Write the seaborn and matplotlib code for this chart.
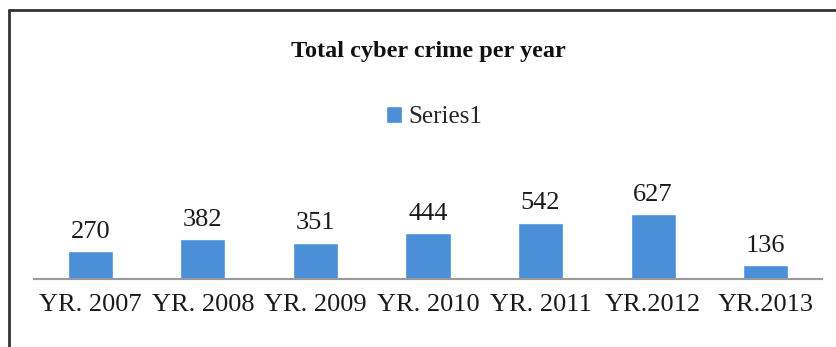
import pandas as pd
import matplotlib.pyplot as plt
import seaborn as sns
from matplotlib.lines import Line2D

# data
years = ["YR. 2007", "YR. 2008", "YR. 2009", "YR. 2010", "YR. 2011", "YR.2012", "YR.2013"]
crimes = [270, 382, 351, 444, 542, 627, 136]
series_name = "Series1"

df = pd.DataFrame({"year": years, "crimes": crimes})

sns.set_style("white")
plt.rcParams['font.family'] = ['Liberation Serif', 'DejaVu Serif']

W, H = 837, 347
fig = plt.figure(figsize=(W / 100, H / 100), dpi=100)
ax = fig.add_axes([34 / W, 1 - 279 / H, (822 - 34) / W, 130 / H])

bar_color = "#4A8FD8"
sns.barplot(data=df, x="year", y="crimes", color=bar_color, width=0.4,
            saturation=1, label=series_name, ax=ax)

# value labels on top of bars
for c in ax.containers:
    ax.bar_label(c, padding=6, fontsize=19, color="#1a1a1a")

ax.set_ylim(0, 1254)
ax.set_xlim(-0.5, len(years) - 0.5)
ax.set_xlabel("")
ax.set_ylabel("")
ax.set_yticks([])
ax.tick_params(axis="x", length=0, labelsize=19, pad=11, colors="#1a1a1a")
for s in ["top", "right", "left"]:
    ax.spines[s].set_visible(False)
ax.spines["bottom"].set_color("#999999")
ax.spines["bottom"].set_linewidth(1.5)
ax.patch.set_alpha(0)

# title and legend
fig.text(428 / W, 1 - 52 / H, "Total cyber crime per year", ha="center", va="center",
         fontsize=17.5, fontweight="bold", color="#111111")
ax.legend(loc="center", bbox_to_anchor=(434 / W, 1 - 117 / H), bbox_transform=fig.transFigure,
          frameon=False, fontsize=18, handlelength=0.65, handleheight=0.65,
          handletextpad=0.25, borderpad=0)

# outer frame: only top and left edges show, the rest is cut off
x0, y0 = 9 / W, 1 - 10 / H
fig.lines.append(Line2D([x0, 1.0], [y0, y0], transform=fig.transFigure, color="#333333", lw=2))
fig.lines.append(Line2D([x0, x0], [0.0, y0], transform=fig.transFigure, color="#333333", lw=2))

fig.savefig("out.png", dpi=100)
